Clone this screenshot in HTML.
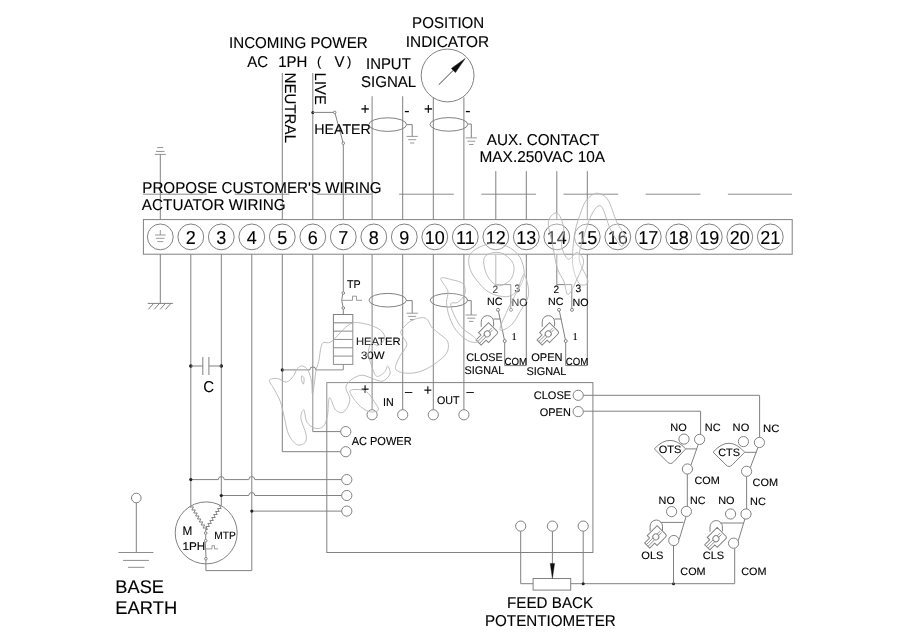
<!DOCTYPE html>
<html><head><meta charset="utf-8"><title>Actuator wiring diagram</title>
<style>
html,body{margin:0;padding:0;background:#fff;}
body{width:900px;height:636px;overflow:hidden;font-family:"Liberation Sans",sans-serif;}
svg{display:block;}
</style></head><body>
<svg width="900" height="636" viewBox="0 0 900 636">
<rect width="900" height="636" fill="#fff"/>
<defs><filter id="soft" x="0" y="0" width="900" height="636" filterUnits="userSpaceOnUse"><feGaussianBlur stdDeviation="0.5"/></filter></defs>
<g filter="url(#soft)">
<g fill="none" stroke="#808080" stroke-width="1">
<rect x="143.4" y="219.6" width="648.8000000000001" height="34.6"/>
<circle cx="160.3" cy="236.9" r="12.9" />
<circle cx="190.8" cy="236.9" r="12.9" />
<circle cx="221.3" cy="236.9" r="12.9" />
<circle cx="251.8" cy="236.9" r="12.9" />
<circle cx="282.3" cy="236.9" r="12.9" />
<circle cx="312.8" cy="236.9" r="12.9" />
<circle cx="343.3" cy="236.9" r="12.9" />
<circle cx="373.8" cy="236.9" r="12.9" />
<circle cx="404.3" cy="236.9" r="12.9" />
<circle cx="434.8" cy="236.9" r="12.9" />
<circle cx="465.3" cy="236.9" r="12.9" />
<circle cx="495.8" cy="236.9" r="12.9" />
<circle cx="526.3" cy="236.9" r="12.9" />
<circle cx="556.8" cy="236.9" r="12.9" />
<circle cx="587.3" cy="236.9" r="12.9" />
<circle cx="617.8" cy="236.9" r="12.9" />
<circle cx="648.3" cy="236.9" r="12.9" />
<circle cx="678.8" cy="236.9" r="12.9" />
<circle cx="709.3" cy="236.9" r="12.9" />
<circle cx="739.8" cy="236.9" r="12.9" />
<circle cx="770.3" cy="236.9" r="12.9" />
<line x1="160.3" y1="230" x2="160.3" y2="235" stroke="#999"/>
<line x1="155.0" y1="235.0" x2="165.6" y2="235.0" stroke="#999"/>
<line x1="156.1" y1="238.3" x2="164.5" y2="238.3" stroke="#999"/>
<line x1="157.3" y1="241.6" x2="163.3" y2="241.6" stroke="#999"/>
<line x1="143.1" y1="194.2" x2="207" y2="194.2" stroke="#8c8c8c"/>
<line x1="234.7" y1="194.2" x2="289.4" y2="194.2" stroke="#8c8c8c"/>
<line x1="316.9" y1="194.2" x2="371.6" y2="194.2" stroke="#8c8c8c"/>
<line x1="399.1" y1="194.2" x2="453.8" y2="194.2" stroke="#8c8c8c"/>
<line x1="481.3" y1="194.2" x2="536" y2="194.2" stroke="#8c8c8c"/>
<line x1="563.5" y1="194.2" x2="618.2" y2="194.2" stroke="#8c8c8c"/>
<line x1="645.7" y1="194.2" x2="700.4" y2="194.2" stroke="#8c8c8c"/>
<line x1="727.9" y1="194.2" x2="792" y2="194.2" stroke="#8c8c8c"/>
<line x1="160.3" y1="154.4" x2="160.3" y2="219.6" />
<line x1="154.9" y1="154.4" x2="165.8" y2="154.4" stroke="#909090"/>
<line x1="156" y1="151.4" x2="164.5" y2="151.4" stroke="#909090"/>
<line x1="157.2" y1="147.6" x2="163.2" y2="147.6" stroke="#909090"/>
<line x1="282.3" y1="73" x2="282.3" y2="219.6" />
<line x1="312.8" y1="73" x2="312.8" y2="219.6" />
<circle cx="312.8" cy="112.4" r="1.5" fill="#222" stroke="none"/>
<line x1="312.8" y1="112.4" x2="333.4" y2="112.4" />
<circle cx="334.7" cy="112.4" r="1.3" />
<line x1="335.1" y1="113.6" x2="342.9" y2="142" />
<circle cx="343.3" cy="143.2" r="1.3" />
<line x1="343.3" y1="144.5" x2="343.3" y2="219.6" />
<line x1="372.1" y1="96.2" x2="372.1" y2="219.6" />
<line x1="402.7" y1="96.2" x2="402.7" y2="219.6" />
<ellipse cx="387.7" cy="124.6" rx="18.9" ry="6.8"/>
<polyline points="406.59999999999997,124.6 412.2,124.6 412.2,136.4" />
<line x1="406.55" y1="136.4" x2="417.85" y2="136.4" stroke="#999"/>
<line x1="408.2" y1="139.7" x2="416.2" y2="139.7" stroke="#999"/>
<line x1="410.0" y1="143.0" x2="414.4" y2="143.0" stroke="#999"/>
<circle cx="447.6" cy="75.5" r="26.4" />
<line x1="433.3" y1="97.7" x2="433.3" y2="219.6" />
<line x1="463.9" y1="97.3" x2="463.9" y2="219.6" />
<line x1="438.7" y1="84.8" x2="458" y2="65.6" stroke="#444"/>
<polygon points="465.1,58.6 451.4,68.4 455.4,72.6" fill="#111" stroke="#111" stroke-width="0.5"/>
<ellipse cx="448.90000000000003" cy="124.4" rx="18.9" ry="6.8"/>
<polyline points="467.8,124 471.3,124 471.3,137.9" />
<line x1="465.65" y1="137.9" x2="476.95" y2="137.9" stroke="#999"/>
<line x1="467.3" y1="141.2" x2="475.3" y2="141.2" stroke="#999"/>
<line x1="469.1" y1="144.5" x2="473.5" y2="144.5" stroke="#999"/>
<line x1="495.8" y1="171.1" x2="495.8" y2="219.6" />
<line x1="526.3" y1="171.1" x2="526.3" y2="219.6" />
<line x1="556.8" y1="171.1" x2="556.8" y2="219.6" />
<line x1="587.3" y1="171.1" x2="587.3" y2="219.6" />
<line x1="160.3" y1="254.2" x2="160.3" y2="303.3" />
<line x1="147.7" y1="303.4" x2="172.9" y2="303.4" />
<line x1="153.6" y1="303.4" x2="148.29999999999998" y2="309.4" />
<line x1="159.5" y1="303.4" x2="154.2" y2="309.4" />
<line x1="165.4" y1="303.4" x2="160.1" y2="309.4" />
<line x1="170.9" y1="303.4" x2="165.6" y2="309.4" />
<line x1="190.8" y1="254.2" x2="190.8" y2="505.5" />
<line x1="221.3" y1="254.2" x2="221.3" y2="505.5" />
<line x1="251.8" y1="254.2" x2="251.8" y2="570.6" />
<circle cx="190.8" cy="366" r="1.8" fill="#222" stroke="none"/>
<circle cx="221.3" cy="366" r="1.8" fill="#222" stroke="none"/>
<line x1="190.8" y1="366" x2="202.8" y2="366" />
<line x1="208.9" y1="366" x2="221.3" y2="366" />
<line x1="202.8" y1="357" x2="202.8" y2="375" />
<line x1="208.9" y1="357" x2="208.9" y2="375" />
<line x1="282.3" y1="254.2" x2="282.3" y2="451.7" />
<line x1="282.3" y1="451.7" x2="340.8" y2="451.7" />
<line x1="312.8" y1="254.2" x2="312.8" y2="431.6" />
<line x1="312.8" y1="431.6" x2="340.8" y2="431.6" />
<circle cx="282.3" cy="369.9" r="1.6" fill="#222" stroke="none"/>
<path d="M282.3,369.9 L309.8,369.9 A3,3 0 0 1 315.8,369.9 L343.3,369.9"/>
<line x1="343.3" y1="254.2" x2="343.3" y2="291.7" />
<circle cx="343.3" cy="293" r="1.3" />
<circle cx="343.3" cy="308" r="1.3" />
<line x1="342.7" y1="294.2" x2="341.7" y2="300.5" />
<line x1="341.7" y1="300.5" x2="343.0" y2="306.8" />
<polyline points="341.8,300.3 352.5,300.3 352.5,296.2 356.5,296.2 356.5,300.3 362,300.3" stroke="#999"/>
<line x1="343.3" y1="309.3" x2="343.3" y2="314.5" />
<rect x="333.4" y="314.5" width="19.400000000000034" height="49.9"/>
<line x1="333.4" y1="322.82" x2="352.8" y2="322.82" />
<line x1="333.4" y1="331.13" x2="352.8" y2="331.13" />
<line x1="333.4" y1="339.45" x2="352.8" y2="339.45" />
<line x1="333.4" y1="347.77" x2="352.8" y2="347.77" />
<line x1="333.4" y1="356.08" x2="352.8" y2="356.08" />
<line x1="343.3" y1="364.4" x2="343.3" y2="369.9" />
<line x1="372.1" y1="254.2" x2="372.1" y2="409.7" />
<circle cx="372.1" cy="414.8" r="5.1" />
<line x1="402.7" y1="254.2" x2="402.7" y2="409.7" />
<circle cx="402.7" cy="414.8" r="5.1" />
<line x1="433.3" y1="254.2" x2="433.3" y2="409.7" />
<circle cx="433.3" cy="414.8" r="5.1" />
<line x1="463.9" y1="254.2" x2="463.9" y2="409.7" />
<circle cx="463.9" cy="414.8" r="5.1" />
<ellipse cx="387.7" cy="300.2" rx="18.7" ry="6.8"/>
<polyline points="406.4,300.6 412.2,300.6 412.2,313.2" />
<line x1="406.55" y1="313.2" x2="417.85" y2="313.2" stroke="#999"/>
<line x1="408.2" y1="316.4" x2="416.2" y2="316.4" stroke="#999"/>
<line x1="410.0" y1="319.6" x2="414.4" y2="319.6" stroke="#999"/>
<ellipse cx="448.90000000000003" cy="300.2" rx="18.7" ry="6.8"/>
<polyline points="467.6,300.6 471.20000000000005,300.6 471.20000000000005,315" />
<line x1="465.55" y1="315.0" x2="476.85" y2="315.0" stroke="#999"/>
<line x1="467.2" y1="318.2" x2="475.2" y2="318.2" stroke="#999"/>
<line x1="469.0" y1="321.4" x2="473.4" y2="321.4" stroke="#999"/>
<rect x="326.8" y="382.6" width="266.09999999999997" height="169.9"/>
<circle cx="345.8" cy="431.6" r="5.1" />
<circle cx="345.8" cy="451.7" r="5.1" />
<circle cx="346.8" cy="479.6" r="5.1" />
<circle cx="346.8" cy="495.5" r="5.1" />
<circle cx="346.8" cy="511.1" r="5.1" />
<path d="M190.8,479.6 L218.3,479.6 A3,3 0 0 1 224.3,479.6 L248.8,479.6 A3,3 0 0 1 254.8,479.6 L341.7,479.6"/>
<path d="M221.3,495.5 L248.8,495.5 A3,3 0 0 1 254.8,495.5 L341.7,495.5"/>
<line x1="251.8" y1="511.1" x2="341.7" y2="511.1" />
<circle cx="190.8" cy="479.6" r="1.6" fill="#222" stroke="none"/>
<circle cx="221.3" cy="495.5" r="1.6" fill="#222" stroke="none"/>
<circle cx="251.8" cy="511.1" r="1.6" fill="#222" stroke="none"/>
<circle cx="578.2" cy="395.3" r="5.1" />
<circle cx="578.2" cy="411.6" r="5.1" />
<polyline points="583.3,395.3 759.6,395.3 759.6,437.4" />
<polyline points="583.3,411.2 700.6,411.2 700.6,434.4" />
<circle cx="520.7" cy="526.1" r="5.1" />
<circle cx="552.4" cy="526.1" r="5.1" />
<circle cx="583.2" cy="526.1" r="5.1" />
<polyline points="520.7,531.2 520.7,583.7 533.1,583.7" />
<rect x="533.1" y="578.5" width="37.6" height="11.6"/>
<line x1="552.4" y1="531.2" x2="552.4" y2="565" />
<polygon points="550.2,563.4 554.6,563.4 552.4,578.5" fill="#111" stroke="#111" stroke-width="0.4"/>
<line x1="583.2" y1="531.2" x2="583.2" y2="583.7" />
<line x1="570.7" y1="583.7" x2="734.7" y2="583.7" />
<circle cx="583.2" cy="583.7" r="1.5" fill="#222" stroke="none"/>
<circle cx="673.5" cy="583.7" r="1.5" fill="#222" stroke="none"/>
<circle cx="206.2" cy="532.9" r="31" />
<polyline points="190.8,505.5 189.99,507.04 193.47,506.96 191.85,510.04 195.33,509.96 193.72,513.04 197.2,512.96 195.58,516.04 199.06,515.96 197.44,519.04 200.92,518.96 199.3,522.04 202.78,521.96 201.17,525.04 204.65,524.96 203.03,528.04 206.51,527.96 205.7,529.5" />
<polyline points="221.3,505.5 219.55,505.43 221.1,508.57 217.6,508.43 219.15,511.57 215.65,511.43 217.2,514.57 213.7,514.43 215.25,517.57 211.75,517.43 213.3,520.57 209.8,520.43 211.35,523.57 207.85,523.43 209.4,526.57 205.9,526.43 207.45,529.57 205.7,529.5" />
<line x1="205.7" y1="529.5" x2="205.7" y2="531.8" />
<circle cx="205.7" cy="533.1" r="1.3" />
<circle cx="205.7" cy="540.7" r="1.3" />
<circle cx="205.9" cy="558.7" r="1.3" />
<line x1="205.7" y1="534.4" x2="205.7" y2="539.4" />
<line x1="205.2" y1="541.9" x2="206" y2="557.4" />
<polyline points="205.7,548.9 212,548.9 212,545.7 214.5,545.7 214.5,548.9 218,548.9" stroke="#999"/>
<polyline points="205.9,560 205.9,570.6 251.8,570.6" />
<circle cx="136.3" cy="498" r="4.8" />
<line x1="136.3" y1="502.8" x2="136.3" y2="552.5" />
<line x1="118.4" y1="552.5" x2="153.4" y2="552.5" stroke="#8c8c8c"/>
<line x1="123.1" y1="560.4" x2="148.9" y2="560.4" stroke="#8c8c8c"/>
<line x1="128" y1="567.3" x2="144.4" y2="567.3" stroke="#8c8c8c"/>
<polyline points="495.8,254.2 495.8,284.6 510.8,284.6 510.8,308.6" />
<circle cx="511.0" cy="309.8" r="1.5" />
<circle cx="498.0" cy="309.8" r="1.5" />
<line x1="498.40000000000003" y1="311" x2="504.40000000000003" y2="339.8" />
<circle cx="504.7" cy="341" r="1.5" />
<polyline points="504.7,342.2 504.7,365.6 526.3,365.6 526.3,254.2" />
<polyline points="556.8,254.2 556.8,284.6 571.8,284.6 571.8,308.6" />
<circle cx="572.0" cy="309.8" r="1.5" />
<circle cx="559.0" cy="309.8" r="1.5" />
<line x1="559.4" y1="311" x2="565.4" y2="339.8" />
<circle cx="565.6999999999999" cy="341" r="1.5" />
<polyline points="565.6999999999999,342.2 565.6999999999999,365.6 587.3,365.6 587.3,254.2" />
<g>
<circle cx="699.6" cy="439.4" r="5.1" />
<circle cx="684" cy="439.1" r="5.1" />
<circle cx="687.4" cy="469" r="5.1" />
<line x1="698.3" y1="444.3" x2="690.9" y2="465.4" />
<line x1="685.7" y1="448.9" x2="697" y2="448.9" />
<line x1="687.3" y1="474.1" x2="687.3" y2="506.4" />
<circle cx="759.4" cy="442.5" r="5.1" />
<circle cx="743.4" cy="441.6" r="5.1" />
<circle cx="746.6" cy="471.3" r="5.1" />
<line x1="758" y1="447.4" x2="750.2" y2="467.9" />
<line x1="744.8" y1="452.3" x2="756.6" y2="452.3" />
<line x1="746.6" y1="476.4" x2="746.6" y2="509" />
<circle cx="686.4" cy="511.4" r="5.1" />
<circle cx="671.6" cy="511.6" r="5.1" />
<circle cx="673.8" cy="540.5" r="5.1" />
<line x1="686.1" y1="516.5" x2="679.2" y2="539.4" />
<line x1="660.5" y1="522.4" x2="683.4" y2="522.4" />
<line x1="673.5" y1="545.6" x2="673.5" y2="583.7" />
<circle cx="746" cy="514" r="5.1" />
<circle cx="730.6" cy="514" r="5.1" />
<circle cx="733.6" cy="543.2" r="5.1" />
<line x1="744.9" y1="519" x2="738.2" y2="540.8" />
<line x1="720.3" y1="523" x2="743.4" y2="523" />
<line x1="734.7" y1="548.3" x2="734.7" y2="583.7" />
</g>
<path d="M654.3,448.9 Q670,431.9 685.7,448.9 L673.7,461.8 Q670.5,465.2 667.3,461.8 Z" fill="#fff"/>
<path d="M713.1,452.2 Q729,434.2 744.8,452.3 L732.3000000000001,464.8 Q729.1,468.2 725.9,464.8 Z" fill="#fff"/>
<path d="M481.2,326.8 L481.2,321.8 A6.2,6.2 0 0 1 493.59999999999997,321.8 L493.59999999999997,326.3"/>
<g transform="translate(488.5,332.6) rotate(-45)">
<path d="M-7,-7 L7,-7 L7,5 Q7,7 5,7 L-7,7 L-7,3.6 L-14,3.6 L-14,-3.6 L-7,-3.6 Z" fill="#fff"/>
<path d="M-14,-1.2 L-4.6,-1.2 M-14,1.2 L-4.6,1.2" stroke-width="0.8"/>
<circle cx="-1.8" cy="0" r="3" fill="#fff"/>
<path d="M1.2,-1 L5.4,-1 M1.2,1 L5.4,1" stroke-width="0.8"/>
</g>
<line x1="493.4" y1="319" x2="500.6" y2="319" />
<path d="M542.1999999999999,326.8 L542.1999999999999,321.8 A6.2,6.2 0 0 1 554.6,321.8 L554.6,326.3"/>
<g transform="translate(549.5,332.6) rotate(-45)">
<path d="M-7,-7 L7,-7 L7,5 Q7,7 5,7 L-7,7 L-7,3.6 L-14,3.6 L-14,-3.6 L-7,-3.6 Z" fill="#fff"/>
<path d="M-14,-1.2 L-4.6,-1.2 M-14,1.2 L-4.6,1.2" stroke-width="0.8"/>
<circle cx="-1.8" cy="0" r="3" fill="#fff"/>
<path d="M1.2,-1 L5.4,-1 M1.2,1 L5.4,1" stroke-width="0.8"/>
</g>
<line x1="554.4" y1="319" x2="561.6" y2="319" />
<path d="M650.0999999999999,531.2 L650.0999999999999,526.2 A6.2,6.2 0 0 1 662.5,526.2 L662.5,530.7"/>
<g transform="translate(657.1,535.6) rotate(-45)">
<path d="M-7,-7 L7,-7 L7,5 Q7,7 5,7 L-7,7 L-7,3.6 L-14,3.6 L-14,-3.6 L-7,-3.6 Z" fill="#fff"/>
<path d="M-14,-1.2 L-4.6,-1.2 M-14,1.2 L-4.6,1.2" stroke-width="0.8"/>
<circle cx="-1.8" cy="0" r="3" fill="#fff"/>
<path d="M1.2,-1 L5.4,-1 M1.2,1 L5.4,1" stroke-width="0.8"/>
</g>
<path d="M710.0,531.8000000000001 L710.0,526.8000000000001 A6.2,6.2 0 0 1 722.4000000000001,526.8000000000001 L722.4000000000001,531.3000000000001"/>
<g transform="translate(717.2,537.4) rotate(-45)">
<path d="M-7,-7 L7,-7 L7,5 Q7,7 5,7 L-7,7 L-7,3.6 L-14,3.6 L-14,-3.6 L-7,-3.6 Z" fill="#fff"/>
<path d="M-14,-1.2 L-4.6,-1.2 M-14,1.2 L-4.6,1.2" stroke-width="0.8"/>
<circle cx="-1.8" cy="0" r="3" fill="#fff"/>
<path d="M1.2,-1 L5.4,-1 M1.2,1 L5.4,1" stroke-width="0.8"/>
</g>
</g>
<g font-family="'Liberation Sans', sans-serif" fill="#000" stroke="#000" stroke-width="0.12" text-rendering="geometricPrecision">
<text transform="translate(190.8,243.5) scale(1,1.04)" font-size="18" text-anchor="middle" >2</text>
<text transform="translate(221.3,243.5) scale(1,1.04)" font-size="18" text-anchor="middle" >3</text>
<text transform="translate(251.8,243.5) scale(1,1.04)" font-size="18" text-anchor="middle" >4</text>
<text transform="translate(282.3,243.5) scale(1,1.04)" font-size="18" text-anchor="middle" >5</text>
<text transform="translate(312.8,243.5) scale(1,1.04)" font-size="18" text-anchor="middle" >6</text>
<text transform="translate(343.3,243.5) scale(1,1.04)" font-size="18" text-anchor="middle" >7</text>
<text transform="translate(373.8,243.5) scale(1,1.04)" font-size="18" text-anchor="middle" >8</text>
<text transform="translate(404.3,243.5) scale(1,1.04)" font-size="18" text-anchor="middle" >9</text>
<text transform="translate(434.8,243.5) scale(1,1.04)" font-size="18" text-anchor="middle" >10</text>
<text transform="translate(465.3,243.5) scale(1,1.04)" font-size="18" text-anchor="middle" >11</text>
<text transform="translate(495.8,243.5) scale(1,1.04)" font-size="18" text-anchor="middle" >12</text>
<text transform="translate(526.3,243.5) scale(1,1.04)" font-size="18" text-anchor="middle" >13</text>
<text transform="translate(556.8,243.5) scale(1,1.04)" font-size="18" text-anchor="middle" >14</text>
<text transform="translate(587.3,243.5) scale(1,1.04)" font-size="18" text-anchor="middle" >15</text>
<text transform="translate(617.8,243.5) scale(1,1.04)" font-size="18" text-anchor="middle" >16</text>
<text transform="translate(648.3,243.5) scale(1,1.04)" font-size="18" text-anchor="middle" >17</text>
<text transform="translate(678.8,243.5) scale(1,1.04)" font-size="18" text-anchor="middle" >18</text>
<text transform="translate(709.3,243.5) scale(1,1.04)" font-size="18" text-anchor="middle" >19</text>
<text transform="translate(739.8,243.5) scale(1,1.04)" font-size="18" text-anchor="middle" >20</text>
<text transform="translate(770.3,243.5) scale(1,1.04)" font-size="18" text-anchor="middle" >21</text>
<text transform="translate(229.0,48.0) scale(1,1.04)" font-size="15" text-anchor="start" textLength="138.65" lengthAdjust="spacingAndGlyphs" >INCOMING POWER</text>
<text transform="translate(247.2,66.8) scale(1,1.04)" font-size="15" text-anchor="start" >AC</text>
<text transform="translate(278.2,66.8) scale(1,1.04)" font-size="15" text-anchor="start" >1PH</text>
<text transform="translate(317,66.1) scale(1,1.04)" font-size="13" text-anchor="start" >(</text>
<text transform="translate(334.5,66.8) scale(1,1.04)" font-size="15" text-anchor="start" >V</text>
<text transform="translate(347,66.1) scale(1,1.04)" font-size="13" text-anchor="start" >)</text>
<text transform="translate(412.1,28.3) scale(1,1.04)" font-size="15" text-anchor="start" textLength="72.15" lengthAdjust="spacingAndGlyphs" >POSITION</text>
<text transform="translate(405.8,46.7) scale(1,1.04)" font-size="15" text-anchor="start" textLength="83.45" lengthAdjust="spacingAndGlyphs" >INDICATOR</text>
<text transform="translate(366.0,68.6) scale(1,1.04)" font-size="15" text-anchor="start" textLength="44.75" lengthAdjust="spacingAndGlyphs" >INPUT</text>
<text transform="translate(361.0,86.9) scale(1,1.04)" font-size="15" text-anchor="start" textLength="55.25" lengthAdjust="spacingAndGlyphs" >SIGNAL</text>
<text transform="translate(284.7,72.6) rotate(90)" font-size="15.6" textLength="70.3" lengthAdjust="spacingAndGlyphs">NEUTRAL</text>
<text transform="translate(314.8,72.6) rotate(90)" font-size="15.6" textLength="32.3" lengthAdjust="spacingAndGlyphs">LIVE</text>
<text transform="translate(314.19,133.7) scale(1,1.04)" font-size="13.5" text-anchor="start" textLength="56.69" lengthAdjust="spacingAndGlyphs" >HEATER</text>
<text transform="translate(365.2,113.5) scale(1,1.04)" font-size="15" text-anchor="middle" >+</text>
<text transform="translate(406.8,115.6) scale(1,1.04)" font-size="16" text-anchor="middle" >-</text>
<text transform="translate(428.3,114.3) scale(1,1.04)" font-size="15" text-anchor="middle" >+</text>
<text transform="translate(468,115.7) scale(1,1.04)" font-size="16" text-anchor="middle" >-</text>
<text transform="translate(486.7,145.3) scale(1,1.04)" font-size="15" text-anchor="start" textLength="112.75" lengthAdjust="spacingAndGlyphs" >AUX. CONTACT</text>
<text transform="translate(479.5,162.3) scale(1,1.04)" font-size="15" text-anchor="start" textLength="125.65" lengthAdjust="spacingAndGlyphs" >MAX.250VAC 10A</text>
<text transform="translate(142.3,193.1) scale(1,1.04)" font-size="15" text-anchor="start" textLength="239.35" lengthAdjust="spacingAndGlyphs" >PROPOSE CUSTOMER'S WIRING</text>
<text transform="translate(141.8,209.9) scale(1,1.04)" font-size="15" text-anchor="start" textLength="143.85" lengthAdjust="spacingAndGlyphs" >ACTUATOR WIRING</text>
<text transform="translate(203.3,391.7) scale(1,1.04)" font-size="15" text-anchor="start" >C</text>
<text transform="translate(346.9,288.0) scale(1,1.04)" font-size="10.71" text-anchor="start" >TP</text>
<text transform="translate(355.9,345.3) scale(1,1.04)" font-size="10.4" text-anchor="start" textLength="44.6" lengthAdjust="spacingAndGlyphs" >HEATER</text>
<text transform="translate(360.9,358.8) scale(1,1.04)" font-size="10.4" text-anchor="start" textLength="23.6" lengthAdjust="spacingAndGlyphs" >30W</text>
<text transform="translate(365,393.7) scale(1,1.04)" font-size="14" text-anchor="middle" >+</text>
<text transform="translate(408.6,395.5) scale(1,1.04)" font-size="13" text-anchor="middle" >–</text>
<text transform="translate(427.8,394.7) scale(1,1.04)" font-size="14" text-anchor="middle" >+</text>
<text transform="translate(470.2,396.1) scale(1,1.04)" font-size="13" text-anchor="middle" >–</text>
<text transform="translate(383,405.8) scale(1,1.04)" font-size="10.71" text-anchor="start" >IN</text>
<text transform="translate(436.88,404.2) scale(1,1.04)" font-size="10.71" text-anchor="start" textLength="22.53" lengthAdjust="spacingAndGlyphs" >OUT</text>
<text transform="translate(351.66,444.7) scale(1,1.04)" font-size="11.13" text-anchor="start" textLength="59.98" lengthAdjust="spacingAndGlyphs" >AC POWER</text>
<text transform="translate(182.4,534.5) scale(1,1.04)" font-size="11.75" text-anchor="start" >M</text>
<text transform="translate(182.38,549.5) scale(1,1.04)" font-size="10.71" text-anchor="start" textLength="22.73" lengthAdjust="spacingAndGlyphs" >1PH</text>
<text transform="translate(214.21,538.5) scale(1,1.04)" font-size="10.19" text-anchor="start" textLength="21.58" lengthAdjust="spacingAndGlyphs" >MTP</text>
<text transform="translate(115.34,592.5) scale(1,1.04)" font-size="17.6" text-anchor="start" textLength="48.64" lengthAdjust="spacingAndGlyphs" >BASE</text>
<text transform="translate(115.34,613.9) scale(1,1.04)" font-size="17.6" text-anchor="start" textLength="61.94" lengthAdjust="spacingAndGlyphs" >EARTH</text>
<text transform="translate(507.1,608.3) scale(1,1.04)" font-size="15" text-anchor="start" textLength="86.05" lengthAdjust="spacingAndGlyphs" >FEED BACK</text>
<text transform="translate(484.9,626.4) scale(1,1.04)" font-size="15" text-anchor="start" textLength="130.85" lengthAdjust="spacingAndGlyphs" >POTENTIOMETER</text>
<text transform="translate(533.78,399.0) scale(1,1.04)" font-size="10.71" text-anchor="start" textLength="37.33" lengthAdjust="spacingAndGlyphs" >CLOSE</text>
<text transform="translate(539.78,415.5) scale(1,1.04)" font-size="10.71" text-anchor="start" textLength="31.03" lengthAdjust="spacingAndGlyphs" >OPEN</text>
<text transform="translate(492.5,293.0) scale(1,1.04)" font-size="10.19" text-anchor="start" >2</text>
<text transform="translate(514.4,292.0) scale(1,1.04)" font-size="10.19" text-anchor="start" >3</text>
<text transform="translate(487.01,305.2) scale(1,1.04)" font-size="10.19" text-anchor="start" textLength="15.48" lengthAdjust="spacingAndGlyphs" >NC</text>
<text transform="translate(511.61,306.0) scale(1,1.04)" font-size="10.19" text-anchor="start" textLength="16.08" lengthAdjust="spacingAndGlyphs" >NO</text>
<text x="511.5" y="339.5" font-size="10.5" font-family="'Liberation Serif', serif">1</text>
<text transform="translate(553.5,293.0) scale(1,1.04)" font-size="10.19" text-anchor="start" >2</text>
<text transform="translate(575.4,292.0) scale(1,1.04)" font-size="10.19" text-anchor="start" >3</text>
<text transform="translate(548.01,305.2) scale(1,1.04)" font-size="10.19" text-anchor="start" textLength="15.48" lengthAdjust="spacingAndGlyphs" >NC</text>
<text transform="translate(572.61,306.0) scale(1,1.04)" font-size="10.19" text-anchor="start" textLength="16.08" lengthAdjust="spacingAndGlyphs" >NO</text>
<text x="572.5" y="339.5" font-size="10.5" font-family="'Liberation Serif', serif">1</text>
<text transform="translate(466.18,360.5) scale(1,1.04)" font-size="10.71" text-anchor="start" textLength="36.53" lengthAdjust="spacingAndGlyphs" >CLOSE</text>
<text transform="translate(464.58,373.5) scale(1,1.04)" font-size="10.71" text-anchor="start" textLength="39.73" lengthAdjust="spacingAndGlyphs" >SIGNAL</text>
<text transform="translate(504.43,364.6) scale(1,1.04)" font-size="9.88" text-anchor="start" textLength="22.65" lengthAdjust="spacingAndGlyphs" >COM</text>
<text transform="translate(531.18,361.3) scale(1,1.04)" font-size="10.71" text-anchor="start" textLength="31.33" lengthAdjust="spacingAndGlyphs" >OPEN</text>
<text transform="translate(526.38,374.6) scale(1,1.04)" font-size="10.71" text-anchor="start" textLength="40.03" lengthAdjust="spacingAndGlyphs" >SIGNAL</text>
<text transform="translate(565.83,365.4) scale(1,1.04)" font-size="9.88" text-anchor="start" textLength="22.55" lengthAdjust="spacingAndGlyphs" >COM</text>
<text transform="translate(658.81,452.7) scale(1,1.04)" font-size="10.3" text-anchor="start" textLength="22.59" lengthAdjust="spacingAndGlyphs" >OTS</text>
<text transform="translate(718.21,456.2) scale(1,1.04)" font-size="10.3" text-anchor="start" textLength="21.69" lengthAdjust="spacingAndGlyphs" >CTS</text>
<text transform="translate(670.21,430.6) scale(1,1.04)" font-size="10.3" text-anchor="start" textLength="16.49" lengthAdjust="spacingAndGlyphs" >NO</text>
<text transform="translate(704.81,431.2) scale(1,1.04)" font-size="10.3" text-anchor="start" textLength="15.79" lengthAdjust="spacingAndGlyphs" >NC</text>
<text transform="translate(732.61,431.2) scale(1,1.04)" font-size="10.3" text-anchor="start" textLength="16.69" lengthAdjust="spacingAndGlyphs" >NO</text>
<text transform="translate(763.01,432.1) scale(1,1.04)" font-size="10.3" text-anchor="start" textLength="16.39" lengthAdjust="spacingAndGlyphs" >NC</text>
<text transform="translate(694.41,483.7) scale(1,1.04)" font-size="10.3" text-anchor="start" textLength="25.29" lengthAdjust="spacingAndGlyphs" >COM</text>
<text transform="translate(752.61,486.2) scale(1,1.04)" font-size="10.3" text-anchor="start" textLength="25.49" lengthAdjust="spacingAndGlyphs" >COM</text>
<text transform="translate(658.61,503.7) scale(1,1.04)" font-size="10.3" text-anchor="start" textLength="16.29" lengthAdjust="spacingAndGlyphs" >NO</text>
<text transform="translate(689.91,503.7) scale(1,1.04)" font-size="10.3" text-anchor="start" textLength="15.49" lengthAdjust="spacingAndGlyphs" >NC</text>
<text transform="translate(718.21,504.3) scale(1,1.04)" font-size="10.3" text-anchor="start" textLength="16.39" lengthAdjust="spacingAndGlyphs" >NO</text>
<text transform="translate(750.11,504.6) scale(1,1.04)" font-size="10.3" text-anchor="start" textLength="15.79" lengthAdjust="spacingAndGlyphs" >NC</text>
<text transform="translate(641.31,559.2) scale(1,1.04)" font-size="10.3" text-anchor="start" textLength="22.19" lengthAdjust="spacingAndGlyphs" >OLS</text>
<text transform="translate(702.71,558.6) scale(1,1.04)" font-size="10.3" text-anchor="start" textLength="21.39" lengthAdjust="spacingAndGlyphs" >CLS</text>
<text transform="translate(680.31,574.8) scale(1,1.04)" font-size="10.3" text-anchor="start" textLength="25.29" lengthAdjust="spacingAndGlyphs" >COM</text>
<text transform="translate(741.21,575.3) scale(1,1.04)" font-size="10.3" text-anchor="start" textLength="25.29" lengthAdjust="spacingAndGlyphs" >COM</text>
</g>
<g fill="#fff" stroke="#b4b4b4" stroke-width="0.9">
<path d="M586.7,199.8 C589.3,196.9 593.3,193.2 596.9,193.2 C600.4,193.2 604.6,195.0 607.9,199.8 C611.2,204.6 613.7,215.6 616.7,221.8 C619.6,228.1 624.7,233.2 625.5,237.2 C626.2,241.3 623.6,247.5 621.1,246.1 C618.5,244.6 613.4,235.0 610.1,228.4 C606.8,221.8 604.2,209.0 601.3,206.4 C598.3,203.9 595.4,207.9 592.5,213.0 C589.5,218.2 585.8,229.5 583.6,237.2 C581.4,244.9 578.5,251.9 579.2,259.3 C580.0,266.6 588.0,277.2 588.0,281.3 C588.0,285.3 581.8,286.4 579.2,283.5 C576.7,280.5 573.4,272.1 572.6,263.7 C571.9,255.2 573.4,241.6 574.8,232.8 C576.3,224.0 579.5,216.3 581.4,210.8 C583.4,205.3 584.2,202.8 586.7,199.8Z" fill-opacity="0.3"/>
<path d="M548.4,221.8 C549.2,216.3 554.7,211.9 557.2,213.0 C559.8,214.1 563.1,222.9 563.8,228.4 C564.6,233.9 560.9,240.9 561.6,246.1 C562.4,251.2 565.7,258.2 568.2,259.3 C570.8,260.4 574.5,252.3 577.0,252.7 C579.6,253.0 583.6,257.1 583.6,261.5 C583.6,265.9 579.6,273.6 577.0,279.1 C574.5,284.6 570.4,294.1 568.2,294.5 C566.0,294.9 565.7,285.7 563.8,281.3 C562.0,276.9 559.1,273.9 557.2,268.1 C555.4,262.2 554.3,253.8 552.8,246.1 C551.4,238.3 547.7,227.3 548.4,221.8Z" fill-opacity="0.3"/>
<path d="M471.4,252.7 C474.7,249.0 483.1,244.9 489.0,243.8 C494.8,242.7 501.5,243.8 506.6,246.1 C511.7,248.3 516.9,252.3 519.8,257.1 C522.7,261.8 524.6,269.2 524.2,274.7 C523.8,280.2 520.5,286.4 517.6,290.1 C514.7,293.8 511.4,296.3 506.6,296.7 C501.8,297.1 494.1,295.2 489.0,292.3 C483.8,289.3 479.1,283.5 475.8,279.1 C472.5,274.7 469.9,270.3 469.2,265.9 C468.4,261.5 468.1,256.3 471.4,252.7Z" fill-opacity="0.25"/>
<path d="M484.6,257.1 C486.8,253.4 495.2,251.6 500.0,252.7 C504.8,253.8 511.4,259.3 513.2,263.7 C515.0,268.1 513.6,275.4 511.0,279.1 C508.4,282.7 501.8,286.4 497.8,285.7 C493.7,284.9 489.0,279.4 486.8,274.7 C484.6,269.9 482.4,260.7 484.6,257.1Z" fill-opacity="0.25"/>
<path d="M524.2,274.7 C526.0,275.4 529.3,288.2 528.6,294.5 C527.9,300.7 522.7,307.0 519.8,312.1 C516.9,317.2 514.3,322.4 511.0,325.3 C507.7,328.2 500.7,331.9 500.0,329.7 C499.2,327.5 504.4,317.2 506.6,312.1 C508.8,307.0 511.4,302.6 513.2,298.9 C515.0,295.2 515.8,294.1 517.6,290.1 C519.4,286.0 522.4,273.9 524.2,274.7Z" fill-opacity="0.25"/>
<path d="M269.4,380.3 C269.9,378.5 274.6,378.2 277.5,378.5 C280.4,378.8 283.8,382.6 286.5,382.1 C289.2,381.7 291.8,378.0 293.6,375.8 C295.4,373.6 295.7,370.3 297.2,368.7 C298.7,367.1 300.8,365.7 302.6,366.0 C304.4,366.3 306.5,368.0 308.0,370.5 C309.5,373.0 310.8,377.3 311.5,381.2 C312.2,385.1 311.9,393.2 312.4,393.8 C312.8,394.4 313.6,388.7 314.2,384.8 C314.8,380.9 315.2,374.4 316.0,370.5 C316.8,366.6 317.6,366.0 318.7,361.5 C319.8,357.0 320.2,346.9 322.3,343.6 C324.4,340.3 326.9,344.8 331.5,341.5 C336.1,338.2 344.1,327.0 349.9,324.1 C355.7,321.2 361.2,323.1 366.3,324.1 C371.4,325.1 377.6,327.8 380.6,330.2 C383.7,332.6 385.0,335.8 384.6,338.4 C384.2,340.9 380.7,344.6 378.5,345.5 C376.3,346.4 373.1,342.3 371.4,343.5 C369.7,344.7 368.3,349.1 368.3,352.7 C368.3,356.3 370.0,361.1 371.4,365.0 C372.8,368.9 374.3,375.0 376.5,376.2 C378.7,377.4 382.7,373.8 384.6,372.1 C386.5,370.4 386.8,365.7 387.7,366.0 C388.6,366.3 390.8,371.5 390.0,374.0 C389.2,376.5 385.6,380.1 383.0,381.0 C380.4,381.9 377.9,380.3 374.4,379.3 C370.9,378.3 365.9,375.2 362.2,375.2 C358.4,375.2 354.6,377.3 351.9,379.3 C349.2,381.3 346.1,384.0 345.8,387.4 C345.5,390.8 350.2,395.6 349.9,399.7 C349.6,403.8 346.2,410.2 343.8,411.9 C341.4,413.6 338.0,412.3 335.6,409.9 C333.2,407.5 330.9,396.6 329.5,397.6 C328.1,398.6 328.4,411.2 327.4,416.0 C326.4,420.8 325.4,424.2 323.4,426.3 C321.4,428.4 317.9,429.0 315.2,428.3 C312.5,427.6 308.9,425.3 307.0,422.2 C305.1,419.1 304.9,410.6 303.9,409.9 C302.9,409.2 300.5,414.0 300.9,418.1 C301.2,422.2 305.3,430.3 306.0,434.4 C306.7,438.5 306.5,440.9 305.0,442.6 C303.5,444.3 299.5,446.0 296.8,444.6 C294.1,443.2 290.7,438.8 288.6,434.4 C286.6,430.0 285.9,423.6 284.5,418.1 C283.1,412.7 282.1,406.5 280.4,401.7 C278.7,396.9 276.1,393.1 274.3,389.5 C272.5,385.9 268.9,382.1 269.4,380.3Z" fill-opacity="0.1"/>
<path d="M301.5,376.0 C301.9,375.5 303.7,376.7 304.0,378.0 C304.3,379.3 303.9,383.5 303.5,384.0 C303.1,384.5 302.1,382.3 301.8,381.0 C301.5,379.7 301.1,376.5 301.5,376.0Z" fill-opacity="0.1"/>
<path d="M349.9,391.5 C349.9,389.5 353.3,389.5 356.0,389.5 C358.7,389.5 363.2,389.5 366.3,391.5 C369.4,393.5 372.4,398.6 374.4,401.7 C376.4,404.8 379.2,408.2 378.5,409.9 C377.8,411.6 373.0,412.2 370.3,411.9 C367.6,411.6 364.6,409.6 362.2,407.9 C359.8,406.2 358.1,404.4 356.0,401.7 C353.9,399.0 349.9,393.5 349.9,391.5Z" fill-opacity="0.1"/>
<path d="M401.2,330.7 C402.6,328.1 407.1,322.9 411.1,320.8 C415.1,318.7 421.7,316.8 425.2,318.0 C428.7,319.2 429.7,325.1 432.3,327.9 C434.9,330.7 438.2,332.5 440.8,334.9 C443.4,337.2 446.9,338.9 447.9,342.0 C448.8,345.1 448.9,349.5 446.5,353.3 C444.1,357.1 438.2,361.5 433.7,364.6 C429.2,367.7 424.3,370.3 419.6,371.7 C414.9,373.1 409.5,373.6 405.5,373.1 C401.5,372.6 396.6,371.7 395.6,368.9 C394.7,366.1 397.9,360.2 399.8,356.2 C401.7,352.2 406.4,348.1 406.9,344.8 C407.4,341.5 403.6,338.8 402.6,336.4 C401.7,334.0 399.8,333.3 401.2,330.7Z" fill-opacity="0.1"/>
<path d="M440.8,278.4 C441.5,276.5 448.3,278.9 452.1,279.8 C455.9,280.7 461.3,281.6 463.4,284.0 C465.5,286.4 465.7,290.8 464.8,293.9 C463.9,297.0 460.2,300.8 457.8,302.4 C455.4,304.0 451.2,301.4 450.7,303.8 C450.2,306.2 453.0,312.6 454.9,316.6 C456.8,320.6 458.9,324.6 462.0,327.9 C465.1,331.2 470.7,334.0 473.3,336.4 C475.9,338.8 478.5,341.3 477.6,342.0 C476.7,342.7 471.2,342.5 467.7,340.6 C464.2,338.7 459.5,334.7 456.4,330.7 C453.3,326.7 450.9,321.3 449.3,316.6 C447.7,311.9 446.7,306.6 446.5,302.4 C446.3,298.1 448.8,295.1 447.9,291.1 C446.9,287.1 440.1,280.3 440.8,278.4Z" fill-opacity="0.1"/>
</g>
</g>
</svg>
</body></html>
